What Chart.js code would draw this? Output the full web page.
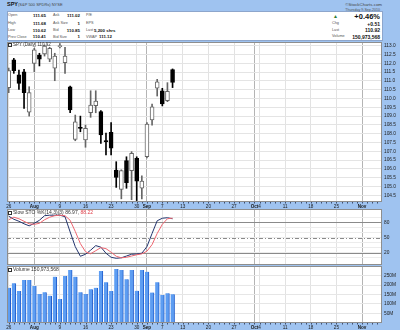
<!DOCTYPE html>
<html>
<head>
<meta charset="utf-8">
<script src="https://cdn.jsdelivr.net/npm/chart.js@4.4.0/dist/chart.umd.min.js"></script>
<style>
body { margin:0; width:400px; height:330px; background:#9fc3f0; position:relative; overflow:hidden;
       font-family:"Liberation Sans", Arial, sans-serif; }
.t { position:absolute; white-space:nowrap; line-height:1; color:#111; }
.lb { font-size:3.8px; color:#555; }
.v { font-size:4.4px; font-weight:bold; }
.rv { font-size:5px; font-weight:bold; }
#info { position:absolute; left:7px; top:11px; width:376px; height:30px; background:#fff;
        border:1px solid #8da6cc; box-sizing:border-box; }
canvas { position:absolute; left:0; }
.ico { display:inline-block; width:2px; height:2px; border:1px solid #333; margin-right:1px; vertical-align:middle; }
</style>
</head>
<body>

<div class="t" style="left:7px;top:2px;font-size:5.5px;font-weight:bold">SPY</div>
<div class="t" style="left:18px;top:3px;font-size:4px;color:#444">(S&amp;P 500 SPDRs) NYSE</div>
<div class="t" style="right:18px;top:2.5px;font-size:4.4px;color:#444">©StockCharts.com</div>

<div id="info"></div>
<div class="t lb" style="left:8px;top:14px">Open</div>
<div class="t lb" style="left:8px;top:22px">High</div>
<div class="t lb" style="left:8px;top:29px">Low</div>
<div class="t lb" style="left:8px;top:35.5px">Prev Close</div>
<div class="t v" style="right:354px;top:13.5px">111.65</div>
<div class="t v" style="right:354px;top:21.5px">111.68</div>
<div class="t v" style="right:354px;top:28.5px">110.62</div>
<div class="t v" style="right:354px;top:35px">110.41</div>
<div class="t lb" style="left:53px;top:14px">Ask</div>
<div class="t lb" style="left:53px;top:22px">Ask Size</div>
<div class="t lb" style="left:53px;top:29px">Bid</div>
<div class="t lb" style="left:53px;top:35.5px">Bid Size</div>
<div class="t v" style="right:320px;top:13.5px">111.02</div>
<div class="t v" style="right:320px;top:21.5px">1</div>
<div class="t v" style="right:320px;top:28.5px">110.85</div>
<div class="t v" style="right:320px;top:35px">1</div>
<div class="t lb" style="left:86px;top:14px">P/E</div>
<div class="t lb" style="left:86px;top:22px">EPS</div>
<div class="t lb" style="left:86px;top:29px">Last</div>
<div class="t lb" style="left:86px;top:35.5px">VWAP</div>
<div class="t v" style="left:94px;top:28.5px">5,200 shrs</div>
<div class="t v" style="right:288px;top:35px">111.12</div>

<div class="t" style="right:20px;top:9px;font-size:3.6px;color:#555">Thursday 9-Sep-2010</div>
<div class="t" style="left:333px;top:14px;font-size:5px;color:#2e7d32">▲</div>
<div class="t" style="right:20px;top:13px;font-size:7.5px;font-weight:bold">+0.46%</div>
<div class="t lb" style="left:332px;top:22px">Chg</div>
<div class="t lb" style="left:332px;top:29px">Last</div>
<div class="t lb" style="left:332px;top:35px">Volume</div>
<div class="t rv" style="right:20px;top:21.5px">+0.51</div>
<div class="t rv" style="right:20px;top:28px">110.92</div>
<div class="t rv" style="right:20px;top:34.5px">150,973,568</div>

<canvas id="cMain" width="400" height="174" style="top:36px"></canvas>
<canvas id="cSto" width="400" height="66" style="top:204px"></canvas>
<canvas id="cVol" width="400" height="69" style="top:261px"></canvas>

<div class="t" style="left:8px;top:42.5px;font-size:4.5px;color:#333"><span class="ico"></span>SPY (Daily) 110.92</div>
<div class="t" style="left:8px;top:210px;font-size:5px;color:#333"><span class="ico"></span>Slow STO %K(14,3)(3) 86.97, <span style="color:#e0404a">88.22</span></div>
<div class="t" style="left:8px;top:267px;font-size:5px;color:#333"><span class="ico"></span>Volume 150,973,568</div>

<script>
// SPY daily, 26 Jul - 9 Sep 2010 (index 0 = 26 Jul, one step per trading day)
const opens  = [110.61,112.19,111.35,111.52,109.22, 112.00,112.47,112.53,112.23,111.72,
                112.95,112.03,110.67,107.68,108.36, 107.64,109.19,109.59,109.25,107.58,
                108.08,105.94,104.84,106.47,105.90, 106.60,104.90,106.69,108.78,110.58,
                110.44,109.88,111.65];
const highs  = [111.73,112.28,111.62,111.66,110.67, 112.85,112.57,113.04,112.91,112.57,
                113.12,112.91,110.71,109.06,109.00, 108.49,110.44,110.44,109.31,108.04,
                108.63,106.41,105.95,106.69,106.98, 106.69,105.60,108.63,109.69,111.09,
                110.58,110.90,111.68];
const lows   = [110.33,111.43,110.52,109.44,109.00, 111.52,111.85,112.41,112.09,111.01,
                112.88,111.43,109.19,107.60,108.11, 107.23,108.93,109.19,107.45,106.79,
                106.79,104.95,104.30,104.90,104.25, 104.20,104.30,106.62,108.49,110.14,
                109.58,109.82,110.62];
const closes = [111.58,111.58,110.86,110.33,110.33, 112.76,112.24,112.98,112.85,112.41,
                113.00,112.41,109.35,108.68,108.30, 108.31,109.63,109.86,107.93,107.55,
                107.18,105.52,105.90,105.22,106.89, 105.31,105.31,108.55,109.53,110.95,
                109.69,110.41,110.92];
// volume in millions of shares
const volumes = [186,210,169,227,227, 195,153,162,144,245,
                 126,248,280,245,162, 153,178,186,275,215,
                 169,286,280,231,280, 170,280,271,160,215,
                 147,156,151];
const stochK = [92,86,82,77,73, 78,84,93,94,94,
                94,91,61,32,13, 17,25,34,31,19,
                11,9,10,13.5,17, 17.5,19,32,58,83,
                88,89,86.97];
const stochD = [85,90,87,82,77, 76,78,85,90,93,
                94,93,84,62,38, 22,18,24,30,28,
                21,13,10,11,13.5, 16,17.8,23,36,58,
                76,87,88.22];

const dateTicks  = [0,5,10,15,20,25,27,30,34,39,44,48,49,54,59,64,69];
const dateLabels = ['26','Aug','9','16','23','30','Sep','7','13','20','27','Oct','4','11','18','25','Nov'];
const monthNames = ['Aug','Sep','Oct','Nov'];
const priceTicks = [104.5,105,105.5,106,106.5,107,107.5,108,108.5,109,109.5,110,110.5,111,111.5,112,112.5,113];
const stochTicks = [10,20,30,40,50,60,70,80,90];
const stochLevels = [20,50,80];
const volTicks = [50,100,150,200,250];

const FONT = '"Liberation Sans", Arial, sans-serif';
const X_MIN = -0.33, X_MAX = 72.9;
const idx = closes.map((c, i) => i);

function isMonthTick(ctx) {
    if (!ctx || !ctx.tick) return false;
    let k = dateTicks.indexOf(ctx.tick.value);
    return k >= 0 && monthNames.includes(dateLabels[k]);
}

function dateScale(labelHeight) {
    return {
        type: 'linear', min: X_MIN, max: X_MAX, offset: false,
        afterBuildTicks: s => { s.ticks = dateTicks.map(v => ({ value: v })); },
        afterFit: s => { s.height = labelHeight; },
        grid: { offset: false, drawTicks: false, color: c => isMonthTick(c) ? '#b4b4b4' : '#e2e2e2' },
        border: { display: false },
        ticks: {
            display: labelHeight > 0, autoSkip: false, maxRotation: 0, minRotation: 0, padding: 1.5, color: '#1a1a1a',
            font: c => ({ family: FONT, size: 4.6, weight: isMonthTick(c) ? 'bold' : 'normal' }),
            callback: (v, i) => dateLabels[i]
        }
    };
}

function valueScale(min, max, ticks, fmt, gridColor) {
    return {
        position: 'right', min: min, max: max,
        afterBuildTicks: s => { s.ticks = ticks.map(v => ({ value: v })); },
        afterFit: s => { s.width = 18; },
        grid: { drawTicks: false, color: gridColor },
        border: { display: false },
        ticks: { autoSkip: false, padding: 2, color: '#222', font: { family: FONT, size: 4.8 }, callback: fmt }
    };
}

// white panel + frame + day marks on the date strip
function panel(dayMarks) {
    return {
        id: 'panel',
        beforeDraw(chart) {
            let a = chart.chartArea, ctx = chart.ctx;
            ctx.save();
            ctx.fillStyle = '#fff';
            ctx.fillRect(a.left, a.top, a.width, a.height);
            ctx.restore();
        },
        afterDraw(chart) {
            let a = chart.chartArea, ctx = chart.ctx;
            ctx.save();
            ctx.strokeStyle = '#8e8e8e';
            ctx.lineWidth = 1;
            ctx.strokeRect(a.left + 0.5, a.top + 0.5, a.width - 1, a.height - 1);
            if (dayMarks) {
                let xs = chart.scales.x;
                ctx.strokeStyle = '#3f4f70';
                for (let d = 0; d <= 72; d++) {
                    let px = Math.round(xs.getPixelForValue(d)) + 0.5;
                    ctx.beginPath();
                    ctx.moveTo(px, a.bottom);
                    ctx.lineTo(px, a.bottom + 1.5);
                    ctx.stroke();
                }
            }
            ctx.restore();
        }
    };
}

const common = { responsive: false, animation: false, events: [],
                 plugins: { legend: { display: false }, tooltip: { enabled: false } } };

const up = i => closes[i] >= opens[i];

new Chart(document.getElementById('cMain'), {
    type: 'bar',
    data: {
        datasets: [
            {
                data: idx.map(i => ({ x: i, y: [lows[i], highs[i]] })),
                barThickness: 1, grouped: false, order: 2,
                backgroundColor: c => up(c.dataIndex) ? '#666' : '#000'
            },
            {
                data: idx.map(i => ({ x: i, y: [opens[i], closes[i]] })),
                barThickness: 4, grouped: false, order: 1, minBarLength: 1,
                borderWidth: 1, borderSkipped: false,
                backgroundColor: c => up(c.dataIndex) ? '#fff' : '#000',
                borderColor: c => up(c.dataIndex) ? '#666' : '#000'
            }
        ]
    },
    options: Object.assign({}, common, {
        layout: { padding: { top: 6, left: 7, right: 0, bottom: 0 } },
        scales: {
            x: dateScale(8),
            y: valueScale(104.12, 113.21, priceTicks, v => v.toFixed(1), '#e4e4e4')
        }
    }),
    plugins: [panel(true)]
});

new Chart(document.getElementById('cSto'), {
    type: 'line',
    data: {
        datasets: [
            { data: idx.map(i => ({ x: i, y: stochD[i] })), borderColor: '#ee6670', borderWidth: 1, pointRadius: 0, tension: 0 },
            { data: idx.map(i => ({ x: i, y: stochK[i] })), borderColor: '#23356e', borderWidth: 1, pointRadius: 0, tension: 0 }
        ]
    },
    options: Object.assign({}, common, {
        layout: { padding: { top: 5, left: 7, right: 0, bottom: 5 } },
        scales: {
            x: dateScale(0),
            y: valueScale(-4.2, 106.2, stochTicks, v => stochLevels.includes(v) ? String(v) : '', '#ececec')
        }
    }),
    plugins: [panel(false), {
        id: 'stochLevels',
        beforeDatasetsDraw(chart) {
            let a = chart.chartArea, ctx = chart.ctx, ys = chart.scales.y;
            ctx.save();
            ctx.strokeStyle = '#8a8a8a';
            ctx.lineWidth = 1;
            stochLevels.forEach(lv => {
                let py = Math.round(ys.getPixelForValue(lv)) + 0.5;
                ctx.setLineDash(lv === 50 ? [4, 2, 1, 2] : []);
                ctx.beginPath();
                ctx.moveTo(a.left, py);
                ctx.lineTo(a.right, py);
                ctx.stroke();
            });
            ctx.restore();
        }
    }]
});

new Chart(document.getElementById('cVol'), {
    type: 'bar',
    data: {
        datasets: [{
            data: idx.map(i => ({ x: i, y: volumes[i] })),
            barThickness: 4, grouped: false,
            backgroundColor: '#5d9df2', borderColor: '#1f5ccc',
            borderWidth: { top: 0, left: 0, bottom: 0, right: 1 }, borderSkipped: false
        }]
    },
    options: Object.assign({}, common, {
        layout: { padding: { top: 5, left: 7, right: 0, bottom: 0 } },
        scales: {
            x: dateScale(7),
            y: valueScale(-1.6, 301.6, volTicks, v => v + 'M', '#e6e6e6')
        }
    }),
    plugins: [panel(true)]
});
</script>
</body>
</html>
